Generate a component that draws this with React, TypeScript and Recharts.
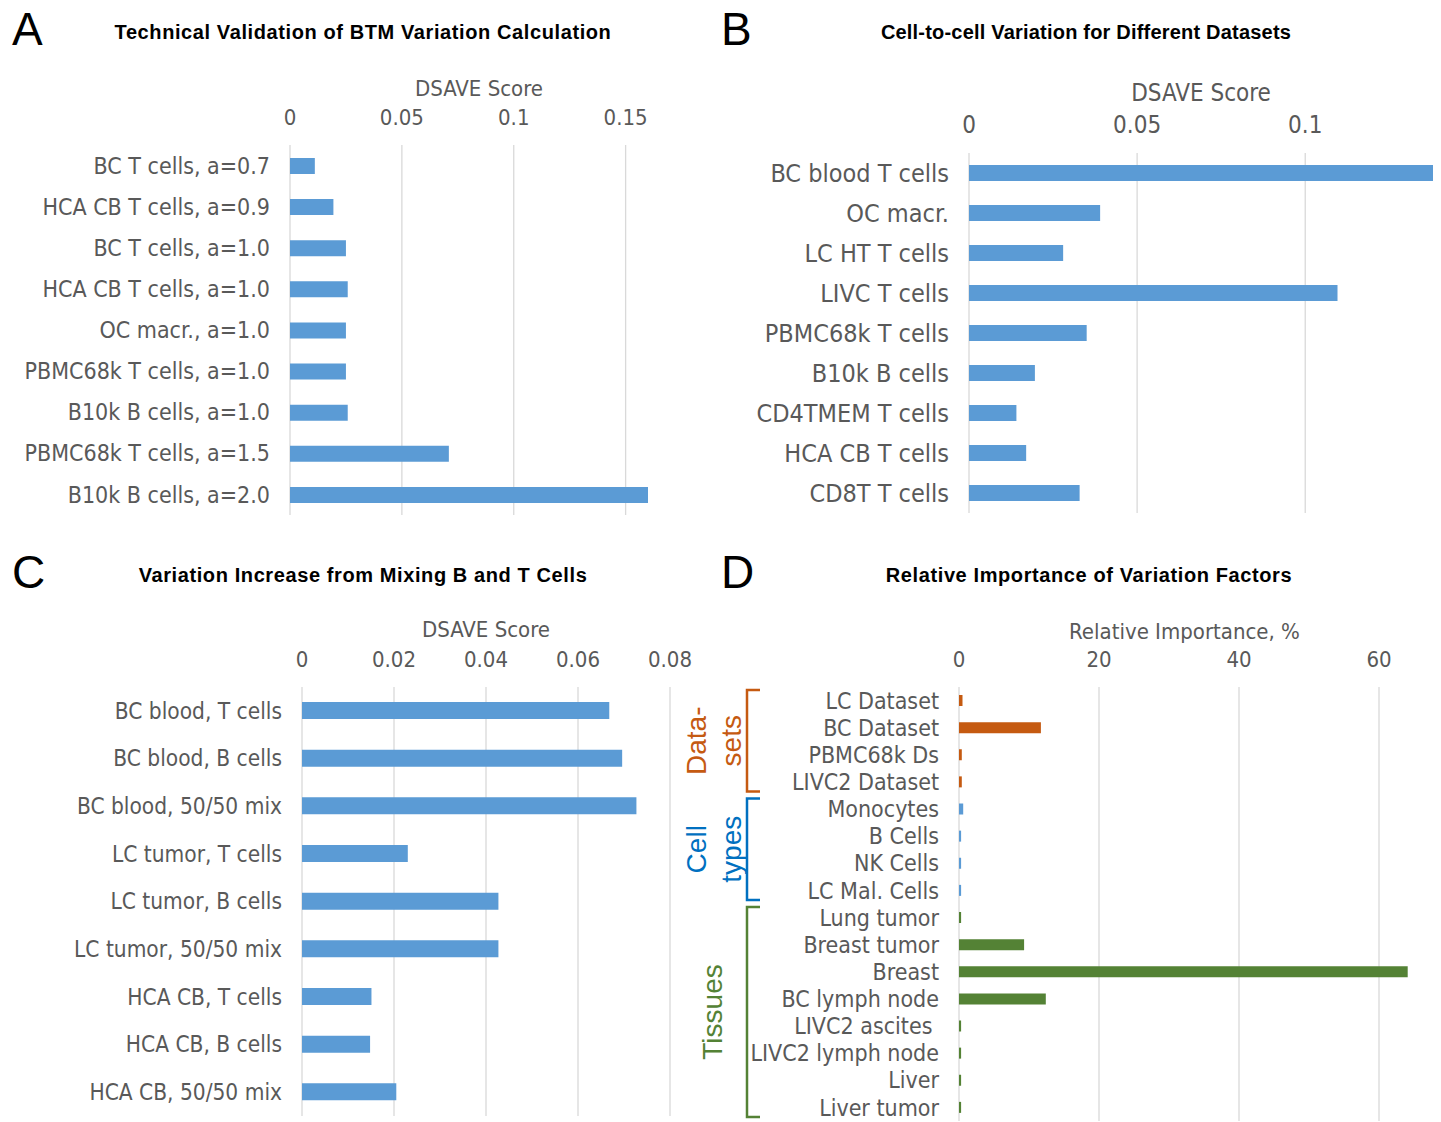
import React from 'react';
import { BarChart, Bar, XAxis, YAxis, CartesianGrid, Cell, Label } from 'recharts';

// Panel A – technical validation
const validationLabels = [
  'BC T cells, a=0.7',
  'HCA CB T cells, a=0.9',
  'BC T cells, a=1.0',
  'HCA CB T cells, a=1.0',
  'OC macr., a=1.0',
  'PBMC68k T cells, a=1.0',
  'B10k B cells, a=1.0',
  'PBMC68k T cells, a=1.5',
  'B10k B cells, a=2.0',
];
const validationScores = [0.0111, 0.0194, 0.025, 0.0258, 0.025, 0.025, 0.0258, 0.071, 0.16];
const validationTicks = [0, 0.05, 0.1, 0.15];

// Panel B – datasets
const datasetLabels = [
  'BC blood T cells',
  'OC macr.',
  'LC HT T cells',
  'LIVC T cells',
  'PBMC68k T cells',
  'B10k B cells',
  'CD4TMEM T cells',
  'HCA CB T cells',
  'CD8T T cells',
];
const datasetScores = [0.138, 0.039, 0.028, 0.1096, 0.035, 0.0196, 0.0141, 0.017, 0.0329];
const datasetTicks = [0, 0.05, 0.1];

// Panel C – mixing B and T cells
const mixLabels = [
  'BC blood, T cells',
  'BC blood, B cells',
  'BC blood, 50/50 mix',
  'LC tumor, T cells',
  'LC tumor, B cells',
  'LC tumor, 50/50 mix',
  'HCA CB, T cells',
  'HCA CB, B cells',
  'HCA CB, 50/50 mix',
];
const mixScores = [0.0668, 0.0696, 0.0727, 0.023, 0.0427, 0.0427, 0.0151, 0.0148, 0.0205];
const mixTicks = [0, 0.02, 0.04, 0.06, 0.08];

// Panel D – relative importance
const factorLabels = [
  'LC Dataset',
  'BC Dataset',
  'PBMC68k Ds',
  'LIVC2 Dataset',
  'Monocytes',
  'B Cells',
  'NK Cells',
  'LC Mal. Cells',
  'Lung tumor',
  'Breast tumor',
  'Breast',
  'BC lymph node',
  'LIVC2 ascites\u00a0',
  'LIVC2 lymph node',
  'Liver',
  'Liver tumor',
];
const factorImportance = [0.5, 11.7, 0.4, 0.4, 0.6, 0.3, 0.3, 0.3, 0.3, 9.3, 64.1, 12.4, 0.3, 0.3, 0.3, 0.3];
const factorGroups = [
  'datasets', 'datasets', 'datasets', 'datasets',
  'cells', 'cells', 'cells', 'cells',
  'tissues', 'tissues', 'tissues', 'tissues', 'tissues', 'tissues', 'tissues', 'tissues',
];
const factorTicks = [0, 20, 40, 60];

const groupNames = ['datasets', 'cells', 'tissues'];
const groupCaptions = [['Data-', 'sets'], ['Cell', 'types'], ['Tissues']];
const groupBarColors: Record<string, string> = { datasets: '#c55a11', cells: '#5b9bd5', tissues: '#548235' };
const groupTextColors: Record<string, string> = { datasets: '#c55a11', cells: '#0070c0', tissues: '#548235' };

const NARROW = "'Liberation Sans Narrow', 'Arial Narrow', 'DejaVu Sans Condensed', sans-serif";
const ARIAL = "'Liberation Sans', Arial, sans-serif";
const TEXT_GREY = '#595959';
const GRID_GREY = '#d9d9d9';
const BAR_BLUE = '#5b9bd5';

interface PanelProps {
  left: number;
  top: number;
  width: number;
  height: number;
  labels: string[];
  values: number[];
  colors?: string[];
  domain: [number, number];
  ticks: number[];
  axisTitle: string;
  axisTitleTop: number;
  axisTitleDx?: number;
  yAxisWidth: number;
  xAxisHeight: number;
  marginRight: number;
  marginBottom: number;
  barSize: number;
  labelFont: number;
  tickFont: number;
}

const HBarPanel: React.FC<PanelProps> = (p) => {
  const data = p.labels.map((name, i) => ({ name, value: p.values[i] }));

  // grid only where the ticks are (not at the domain end)
  const gridX = ({ xAxis, offset }: any) => {
    const [d0, d1] = p.domain;
    return p.ticks.map((t) =>
      xAxis && typeof xAxis.scale === 'function'
        ? xAxis.scale(t)
        : offset.left + ((t - d0) / (d1 - d0)) * offset.width
    );
  };

  return (
    <div style={{ position: 'absolute', left: p.left, top: p.top }}>
      <BarChart
        width={p.width}
        height={p.height}
        data={data}
        layout="vertical"
        margin={{ top: 0, left: 0, right: p.marginRight, bottom: p.marginBottom }}
      >
        <CartesianGrid
          horizontal={false}
          stroke={GRID_GREY}
          strokeWidth={1.3}
          verticalCoordinatesGenerator={gridX}
        />
        <XAxis
          type="number"
          orientation="top"
          domain={p.domain}
          ticks={p.ticks}
          height={p.xAxisHeight}
          axisLine={false}
          tickLine={false}
          tickSize={0}
          tickMargin={20}
          interval={0}
          tick={{ fill: TEXT_GREY, fontSize: p.tickFont, fontFamily: NARROW }}
        >
          <Label
            value={p.axisTitle}
            position="insideTop"
            offset={p.axisTitleTop}
            dx={p.axisTitleDx || 0}
            fill={TEXT_GREY}
            fontSize={p.tickFont}
            fontFamily={NARROW}
          />
        </XAxis>
        <YAxis
          type="category"
          dataKey="name"
          width={p.yAxisWidth}
          axisLine={false}
          tickLine={false}
          tickSize={0}
          tickMargin={20}
          interval={0}
          tick={{ fill: TEXT_GREY, fontSize: p.labelFont, fontFamily: NARROW }}
        />
        <Bar dataKey="value" barSize={p.barSize} fill={BAR_BLUE} isAnimationActive={false}>
          {data.map((_, i) => (
            <Cell key={i} fill={p.colors ? p.colors[i] : BAR_BLUE} />
          ))}
        </Bar>
      </BarChart>
    </div>
  );
};

// geometry of panel D's category band, used for the group brackets
const D_TOP = 687;
const D_BOTTOM = 1121;
const D_BAND = (D_BOTTOM - D_TOP) / factorLabels.length;

const GroupBrackets: React.FC = () => {
  const captionX = [[706, 741], [706, 741], [722]];
  return (
    <>
      {groupNames.map((g, gi) => {
        const first = factorGroups.indexOf(g);
        const last = factorGroups.lastIndexOf(g);
        const y0 = D_TOP + first * D_BAND + 3;
        const y1 = Math.min(D_TOP + (last + 1) * D_BAND - 4, 1120);
        const color = groupTextColors[g];
        const cy = (y0 + y1) / 2;
        return (
          <g key={g}>
            <path
              d={`M760,${y0} H747 V${y1} H760`}
              fill="none"
              stroke={color}
              strokeWidth={2.5}
            />
            {groupCaptions[gi].map((line, li) => (
              <text
                key={line}
                x={captionX[gi][li]}
                y={cy}
                transform={`rotate(-90 ${captionX[gi][li]} ${cy})`}
                textAnchor="middle"
                fill={color}
                fontSize={28}
                fontFamily={ARIAL}
              >
                {line}
              </text>
            ))}
          </g>
        );
      })}
    </>
  );
};

const App: React.FC = () => {
  const factorColors = factorGroups.map((g) => groupBarColors[g]);
  return (
    <div style={{ position: 'absolute', left: 0, top: 0, width: 1441, height: 1122, background: '#fff', overflow: 'hidden' }}>
      <HBarPanel
        left={0}
        top={0}
        width={700}
        height={530}
        labels={validationLabels}
        values={validationScores}
        domain={[0, 0.16]}
        ticks={validationTicks}
        axisTitle="DSAVE Score"
        axisTitleTop={80}
        axisTitleDx={10}
        yAxisWidth={290}
        xAxisHeight={145}
        marginRight={52}
        marginBottom={15}
        barSize={16}
        labelFont={23}
        tickFont={22}
      />
      <HBarPanel
        left={700}
        top={0}
        width={741}
        height={530}
        labels={datasetLabels}
        values={datasetScores}
        domain={[0, 0.138]}
        ticks={datasetTicks}
        axisTitle="DSAVE Score"
        axisTitleTop={84}
        yAxisWidth={269}
        xAxisHeight={153}
        marginRight={8}
        marginBottom={17}
        barSize={16}
        labelFont={25}
        tickFont={24}
      />
      <HBarPanel
        left={0}
        top={550}
        width={700}
        height={572}
        labels={mixLabels}
        values={mixScores}
        domain={[0, 0.08]}
        ticks={mixTicks}
        axisTitle="DSAVE Score"
        axisTitleTop={71}
        yAxisWidth={302}
        xAxisHeight={137}
        marginRight={30}
        marginBottom={6}
        barSize={17}
        labelFont={22.5}
        tickFont={22}
      />
      <HBarPanel
        left={660}
        top={550}
        width={781}
        height={572}
        labels={factorLabels}
        values={factorImportance}
        colors={factorColors}
        domain={[0, 65]}
        ticks={factorTicks}
        axisTitle="Relative Importance, %"
        axisTitleTop={73}
        axisTitleDx={-2}
        yAxisWidth={299}
        xAxisHeight={137}
        marginRight={27}
        marginBottom={1}
        barSize={11}
        labelFont={23}
        tickFont={22}
      />
      <svg
        width={1441}
        height={1122}
        style={{ position: 'absolute', left: 0, top: 0, pointerEvents: 'none' }}
      >
        <g fontFamily={ARIAL} fill="#000">
          <text x={12} y={45} fontSize={46}>A</text>
          <text x={721} y={45} fontSize={46}>B</text>
          <text x={12} y={588} fontSize={46}>C</text>
          <text x={721} y={588} fontSize={46}>D</text>
        </g>
        <g fontFamily={ARIAL} fontWeight="bold" fontSize={20} letterSpacing={0.6} fill="#000" textAnchor="middle">
          <text x={363} y={39}>Technical Validation of BTM Variation Calculation</text>
          <text x={1086} y={39} letterSpacing={0.2}>Cell-to-cell Variation for Different Datasets</text>
          <text x={363} y={582}>Variation Increase from Mixing B and T Cells</text>
          <text x={1089} y={582}>Relative Importance of Variation Factors</text>
        </g>
        <GroupBrackets />
      </svg>
    </div>
  );
};

export default App;
